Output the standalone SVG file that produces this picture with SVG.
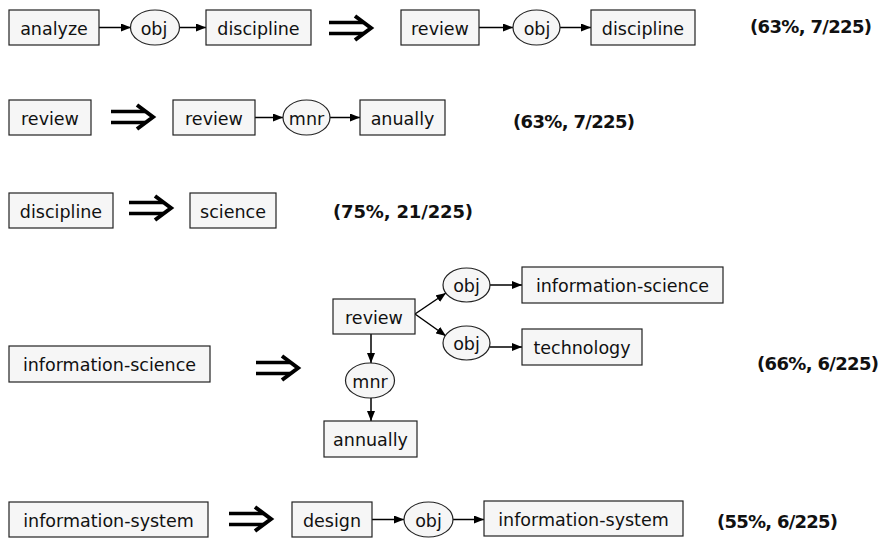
<svg xmlns="http://www.w3.org/2000/svg" width="881" height="540" viewBox="0 0 881 540">
<style>
.box{fill:#f6f6f6;stroke:#222;stroke-width:1.2}
.ell{fill:#f6f6f6;stroke:#222;stroke-width:1.2}
.t{font-family:"DejaVu Sans",Verdana,sans-serif;font-size:17.5px;fill:#111;text-anchor:middle}
.lbl{font-family:"DejaVu Sans","Liberation Sans",sans-serif;font-size:18px;font-weight:bold;fill:#111}
.edge{stroke:#000;stroke-width:1.5;fill:none;marker-end:url(#ah)}
.impl{stroke:#000;fill:none}
</style>
<defs>
<marker id="ah" viewBox="0 0 10 8" refX="10" refY="4" markerWidth="10" markerHeight="8" markerUnits="userSpaceOnUse" orient="auto">
<path d="M0,0 L10,4 L0,8 z" fill="#000"/>
</marker>
<g id="implies">
<line x1="0" y1="-5.5" x2="34" y2="-5.5" stroke="#000" stroke-width="3.5"/>
<line x1="0" y1="5.5" x2="34" y2="5.5" stroke="#000" stroke-width="3.5"/>
<polyline points="26,-12 42,0 26,12" stroke="#000" stroke-width="4" fill="none" stroke-linejoin="miter"/>
</g>
</defs>

<g id="connectors">
<line class="edge" x1="99" y1="27.5" x2="131" y2="27.5"/>
<line class="edge" x1="180" y1="27.5" x2="206" y2="27.5"/>
<line class="edge" x1="479" y1="27.5" x2="513" y2="27.5"/>
<line class="edge" x1="560" y1="27.5" x2="591" y2="27.5"/>
<line class="edge" x1="255" y1="117.5" x2="283" y2="117.5"/>
<line class="edge" x1="330" y1="117.5" x2="360" y2="117.5"/>
<line class="edge" x1="415" y1="314" x2="446" y2="293"/>
<line class="edge" x1="415" y1="314" x2="446" y2="336"/>
<line class="edge" x1="371" y1="334" x2="371" y2="363"/>
<line class="edge" x1="371" y1="398" x2="371" y2="421"/>
<line class="edge" x1="490" y1="285" x2="522" y2="285"/>
<line class="edge" x1="490" y1="347" x2="522" y2="347"/>
<line class="edge" x1="372" y1="519.5" x2="404" y2="519.5"/>
<line class="edge" x1="453" y1="519.5" x2="484" y2="519.5"/>
</g>

<g id="implies-arrows">
<use href="#implies" x="329" y="28"/>
<use href="#implies" x="111" y="117"/>
<use href="#implies" x="129" y="208"/>
<use href="#implies" x="256" y="368"/>
<use href="#implies" x="229" y="519"/>
</g>

<g id="n-analyze"><rect class="box" x="9" y="10" width="90" height="35"/><text class="t" x="54" y="34.5">analyze</text></g>
<g id="n-obj1"><ellipse class="ell" cx="155" cy="27.5" rx="24.5" ry="17.5"/><text class="t" x="154" y="34.5">obj</text></g>
<g id="n-discipline1"><rect class="box" x="206" y="10" width="105" height="35"/><text class="t" x="258.5" y="34.5">discipline</text></g>
<g id="n-review1"><rect class="box" x="401" y="10" width="78" height="35"/><text class="t" x="440" y="34.5">review</text></g>
<g id="n-obj2"><ellipse class="ell" cx="536.5" cy="27.5" rx="23.5" ry="17.5"/><text class="t" x="537" y="34.5">obj</text></g>
<g id="n-discipline2"><rect class="box" x="591" y="10" width="104" height="35"/><text class="t" x="643" y="34.5">discipline</text></g>
<text class="lbl" x="750" y="33" textLength="122">(63%, 7/225)</text>

<g id="n-review2"><rect class="box" x="9" y="100" width="82" height="35"/><text class="t" x="50" y="124.5">review</text></g>
<g id="n-review3"><rect class="box" x="173" y="100" width="82" height="35"/><text class="t" x="214" y="124.5">review</text></g>
<g id="n-mnr1"><ellipse class="ell" cx="306.5" cy="117.5" rx="23.5" ry="17.5"/><text class="t" x="306.5" y="124.5">mnr</text></g>
<g id="n-anually"><rect class="box" x="360" y="100" width="85" height="35"/><text class="t" x="402.5" y="124.5">anually</text></g>
<text class="lbl" x="513" y="128" textLength="122">(63%, 7/225)</text>

<g id="n-discipline3"><rect class="box" x="9" y="193" width="104" height="35"/><text class="t" x="61" y="217.5">discipline</text></g>
<g id="n-science"><rect class="box" x="190" y="193" width="86" height="35"/><text class="t" x="233" y="217.5">science</text></g>
<text class="lbl" x="333" y="218" textLength="140">(75%, 21/225)</text>

<g id="n-infosci1"><rect class="box" x="9" y="346" width="201" height="36"/><text class="t" x="109.5" y="371">information-science</text></g>
<g id="n-review4"><rect class="box" x="333" y="299" width="82" height="35"/><text class="t" x="374" y="323.5">review</text></g>
<g id="n-mnr2"><ellipse class="ell" cx="370" cy="380.5" rx="24.5" ry="17.5"/><text class="t" x="370" y="387.5">mnr</text></g>
<g id="n-annually"><rect class="box" x="324" y="421" width="93" height="36"/><text class="t" x="370.5" y="446">annually</text></g>
<g id="n-obj3"><ellipse class="ell" cx="466.5" cy="285" rx="23.5" ry="17"/><text class="t" x="466.5" y="292">obj</text></g>
<g id="n-obj4"><ellipse class="ell" cx="466.5" cy="343" rx="23.5" ry="17"/><text class="t" x="466.5" y="350">obj</text></g>
<g id="n-infosci2"><rect class="box" x="522" y="267" width="201" height="36"/><text class="t" x="622.5" y="292">information-science</text></g>
<g id="n-technology"><rect class="box" x="522" y="329" width="120" height="36"/><text class="t" x="582" y="354">technology</text></g>
<text class="lbl" x="757" y="370" textLength="122">(66%, 6/225)</text>

<g id="n-infosys1"><rect class="box" x="9" y="502" width="199" height="35"/><text class="t" x="108.5" y="526.5">information-system</text></g>
<g id="n-design"><rect class="box" x="292" y="502" width="80" height="35"/><text class="t" x="332" y="526.5">design</text></g>
<g id="n-obj5"><ellipse class="ell" cx="428.5" cy="519.5" rx="24.5" ry="17.5"/><text class="t" x="428.5" y="526.5">obj</text></g>
<g id="n-infosys2"><rect class="box" x="484" y="501" width="199" height="35"/><text class="t" x="583.5" y="525.5">information-system</text></g>
<text class="lbl" x="717" y="528" textLength="121">(55%, 6/225)</text>
</svg>
